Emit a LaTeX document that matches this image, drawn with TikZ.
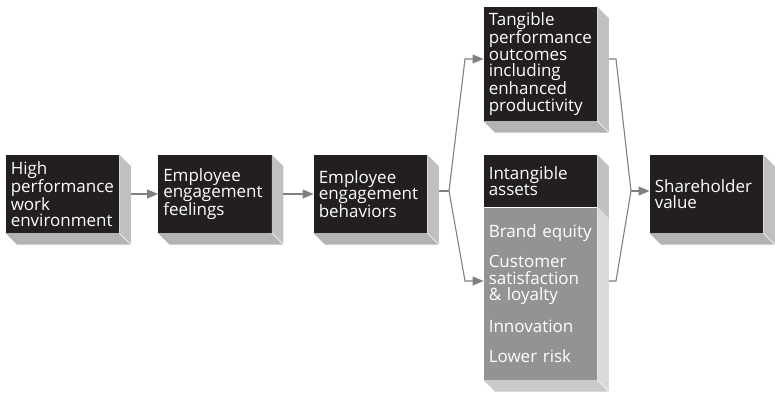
\documentclass[tikz,border=0pt]{standalone}
\usepackage{fontspec}
\setmainfont{Open Sans}
\usetikzlibrary{arrows.meta}
\definecolor{boxblack}{HTML}{231F20}
\definecolor{boxgray}{HTML}{939393}
\definecolor{sideA}{HTML}{C0C0C0}
\definecolor{botA}{HTML}{B3B3B3}
\definecolor{sideB}{HTML}{DADADA}
\definecolor{botB}{HTML}{CACACA}
\definecolor{conncol}{HTML}{808080}
\newcommand\mkside[2]{%
  \fill[#2] (#1.north east) -- ++(11.5,11.5) -- ([shift={(11.5,11.5)}]#1.south east) -- (#1.south east) -- cycle;}
\newcommand\mkbottom[2]{%
  \fill[#2] (#1.south west) -- (#1.south east) -- ++(11.5,11.5) -- ([shift={(11.5,11.5)}]#1.south west) -- cycle;
  \draw[white,line width=0.6pt] (#1.south east) -- ++(11.5,11.5);}
\begin{document}
\begin{tikzpicture}[x=1pt,y=-1pt,
  boxfont/.style={font=\fontsize{17pt}{16.5pt}\selectfont},
  blk/.style={boxfont,fill=boxblack,text=white,minimum width=113.5pt,minimum height=78pt,
    text width=103.5pt,inner xsep=5pt,inner ysep=0pt,align=left},
  gry/.style={blk,fill=boxgray},
  conn/.style={draw=conncol,line width=1.1pt,-{Triangle[length=11pt,width=9pt]}},
  connplain/.style={draw=conncol,line width=1.1pt},
]
\useasboundingbox (0,0) rectangle (775,393);

% boxes
\node[blk] (b1) at (62.5,194) {High\\performance\\work\\environment};
\node[blk] (b2) at (215,194) {Employee\\engagement\\feelings};
\node[blk] (b3) at (370.5,194) {Employee\\engagement\\behaviors};
\node[blk,minimum height=114pt] (tang) at (540.5,64) {Tangible\\performance\\outcomes\\including\\enhanced\\productivity};
\node[blk,minimum height=52pt] (intA) at (540.5,181) {Intangible\\assets};
\node[gry,minimum height=173pt] (intB) at (540.5,293.5) {Brand equity\\[14pt]Customer\\satisfaction\\\& loyalty\\[14pt]Innovation\\[14pt]Lower risk};
\node[blk] (share) at (706.5,194) {Shareholder\\value};

% 3D extrusions
\foreach \n in {b1,b2,b3,tang,share}{\mkside{\n}{sideA}\mkbottom{\n}{botA}}
\mkside{intA}{sideA}
\mkside{intB}{sideB}
\mkbottom{intB}{botB}
\draw[white,line width=0.8pt] (intA.south west) -- (intA.south east);

% connector bend points
\coordinate (brL) at (449,191);
\coordinate (tL) at (465,59);
\coordinate (bL) at (465,281);
\coordinate (tR) at (616,59);
\coordinate (bR) at (616,281);
\coordinate (brR) at (631,191);

% connectors
\draw[conn] ([xshift=11.5pt]b1.east) -- (b2.west);
\draw[conn] ([xshift=11.5pt]b2.east) -- (b3.west);
\draw[connplain] ([xshift=11.5pt]b3.east |- brL) -- (brL);
\draw[conn] (brL) -- (tL) -- (tL -| tang.west);
\draw[conn] (brL) -- (bL) -- (bL -| intB.west);
\draw[connplain] ([xshift=11.5pt]tang.east |- tR) -- (tR) -- (brR);
\draw[connplain] ([xshift=11.5pt]intB.east |- bR) -- (bR) -- (brR);
\draw[conn] (brR) -- (brR -| share.west);
\end{tikzpicture}
\end{document}
